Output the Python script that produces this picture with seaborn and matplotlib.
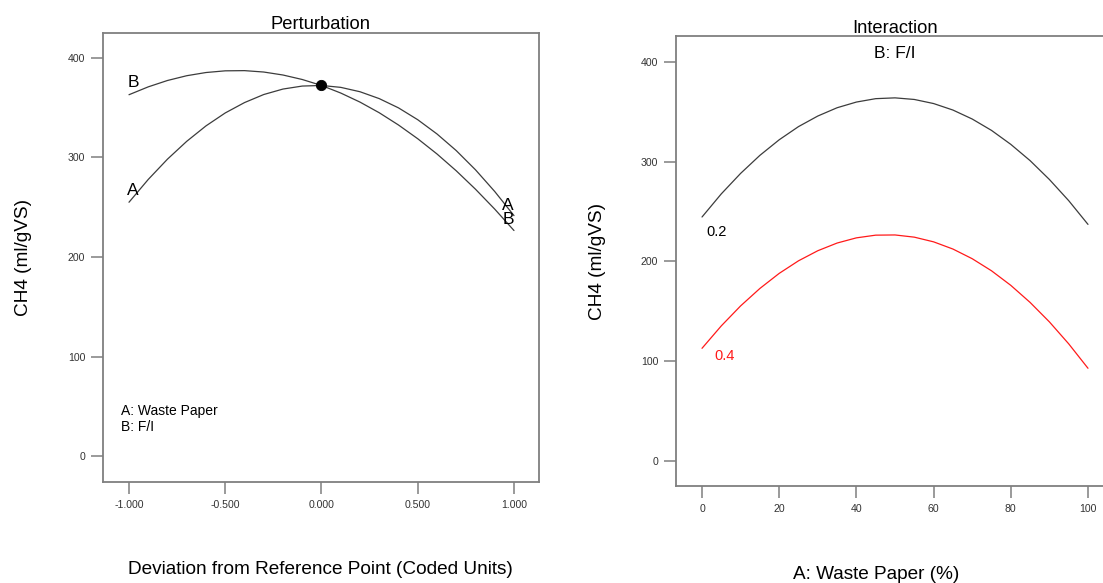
import numpy as np
import pandas as pd
import matplotlib
matplotlib.use("Agg")
import matplotlib.pyplot as plt
import seaborn as sns

# ---------------- data ----------------
# Perturbation panel: deviation from reference point (coded units)
deviation = [-1.0, -0.9, -0.8, -0.7, -0.6, -0.5, -0.4, -0.3, -0.2, -0.1, 0.0,
             0.1, 0.2, 0.3, 0.4, 0.5, 0.6, 0.7, 0.8, 0.9, 1.0]
pert_A = [255.0, 277.9, 298.3, 316.2, 331.7, 344.7, 355.1, 363.2, 368.7, 371.7, 372.3,
          370.4, 366.0, 359.1, 349.8, 337.9, 323.6, 306.9, 287.6, 265.8, 241.6]
pert_B = [363.0, 370.9, 377.3, 382.1, 385.3, 387.0, 387.2, 385.8, 382.8, 378.3, 372.3,
          364.7, 355.6, 344.9, 332.6, 318.8, 303.5, 286.6, 268.1, 248.1, 226.6]
ref_x = [0.0]
ref_y = [372.3]
pert_xticks = [-1.0, -0.5, 0.0, 0.5, 1.0]
pert_xticklabels = ["-1.000", "-0.500", "0.000", "0.500", "1.000"]
yticks = [0, 100, 200, 300, 400]

# Interaction panel: A: Waste Paper (%) at two levels of B: F/I
waste_paper = [0, 5, 10, 15, 20, 25, 30, 35, 40, 45, 50,
               55, 60, 65, 70, 75, 80, 85, 90, 95, 100]
fi_02 = [244.6, 267.8, 288.3, 306.4, 322.0, 335.2, 345.8, 354.1, 359.8, 363.2, 364.0,
         362.4, 358.3, 351.8, 342.8, 331.4, 317.4, 301.1, 282.2, 261.0, 237.2]
fi_04 = [113.0, 135.5, 155.5, 173.0, 188.1, 200.7, 210.8, 218.5, 223.7, 226.4, 226.6,
         224.4, 219.7, 212.5, 202.8, 190.7, 176.1, 159.0, 139.5, 117.5, 93.0]
inter_xticks = [0, 20, 40, 60, 80, 100]

# ---------------- style ----------------
sns.set_theme(style="white")
plt.rcParams['font.family'] = ['Liberation Sans', 'DejaVu Sans']

W, H = 1103, 583
fig = plt.figure(figsize=(W / 100, H / 100), dpi=100)

def px_axes(left, top, right, bottom):
    return [left / W, 1 - bottom / H, (right - left) / W, (bottom - top) / H]

ax1 = fig.add_axes(px_axes(103, 33, 539, 482))
ax2 = fig.add_axes(px_axes(676, 36, 1114, 486))

frame_col = "#7f7f7f"
line_col = "#3c3c3c"

def style_axes(ax):
    for sp in ax.spines.values():
        sp.set_color(frame_col)
        sp.set_linewidth(1.3)
        sp.set_visible(True)
    ax.tick_params(axis="both", which="major", direction="out", length=8.5,
                   width=1.1, color=frame_col, labelsize=7.6, labelcolor="#333333",
                   pad=4.2, bottom=True, left=True, top=False, right=False)
    ax.grid(False)
    ax.set_facecolor("white")

# ---------------- Perturbation panel ----------------
df_p = pd.DataFrame({
    "Deviation": deviation * 2,
    "CH4": pert_A + pert_B,
    "Factor": ["A"] * len(deviation) + ["B"] * len(deviation),
})
sns.lineplot(data=df_p, x="Deviation", y="CH4", hue="Factor",
             palette={"A": line_col, "B": line_col}, linewidth=0.9,
             legend=False, ax=ax1)
sns.scatterplot(x=ref_x, y=ref_y, color="black", s=55, edgecolor="black",
                zorder=5, ax=ax1)
ax1.set_xlim(-1.135, 1.13)
ax1.set_ylim(-26, 425)
ax1.set_xticks(pert_xticks)
ax1.set_xticklabels(pert_xticklabels)
ax1.set_yticks(yticks)
style_axes(ax1)
ax1.set_title("Perturbation", fontsize=13.2, pad=3, color="black")
ax1.set_xlabel("Deviation from Reference Point (Coded Units)", fontsize=13.7, color="black")
ax1.set_ylabel("CH4 (ml/gVS)", fontsize=13.7, color="black")
ax1.xaxis.set_label_coords(0.498, -0.176)
ax1.yaxis.set_label_coords(-0.163, 0.5)

ax1.text(-0.979, 374.9, "B", fontsize=12.5, ha="center", va="center", color="black")
ax1.text(-0.979, 267, "A", fontsize=12.5, ha="center", va="center", color="black")
ax1.text(0.969, 252, "A", fontsize=12.5, ha="center", va="center", color="black")
ax1.text(0.969, 238, "B", fontsize=12.5, ha="center", va="center", color="black")
ax1.text(-1.04, 45, "A: Waste Paper", fontsize=10, ha="left", va="center", color="black")
ax1.text(-1.04, 29, "B: F/I", fontsize=10, ha="left", va="center", color="black")

# ---------------- Interaction panel ----------------
df_i = pd.DataFrame({
    "Waste": waste_paper * 2,
    "CH4": fi_02 + fi_04,
    "FI": ["0.2"] * len(waste_paper) + ["0.4"] * len(waste_paper),
})
sns.lineplot(data=df_i, x="Waste", y="CH4", hue="FI",
             palette={"0.2": line_col, "0.4": "#ff1a1a"}, linewidth=0.9,
             legend=False, ax=ax2)
ax2.set_xlim(-6.74, 106.74)
ax2.set_ylim(-25, 426)
ax2.set_xticks(inter_xticks)
ax2.set_yticks(yticks)
style_axes(ax2)
ax2.set_title("Interaction", fontsize=13.2, pad=2, color="black")
ax2.set_xlabel("A: Waste Paper (%)", fontsize=13.7, color="black")
ax2.set_ylabel("CH4 (ml/gVS)", fontsize=13.7, color="black")
ax2.xaxis.set_label_coords((876 - 676) / 438, -0.178)
ax2.yaxis.set_label_coords(-0.159, 0.5)

ax2.text(50, 408, "B: F/I", fontsize=12.5, ha="center", va="center", color="black")
ax2.text(3.7, 230, "0.2", fontsize=10.5, ha="center", va="center", color="black")
ax2.text(5.8, 105, "0.4", fontsize=10.5, ha="center", va="center", color="#ff1a1a")

fig.savefig("out.png", dpi=100)
